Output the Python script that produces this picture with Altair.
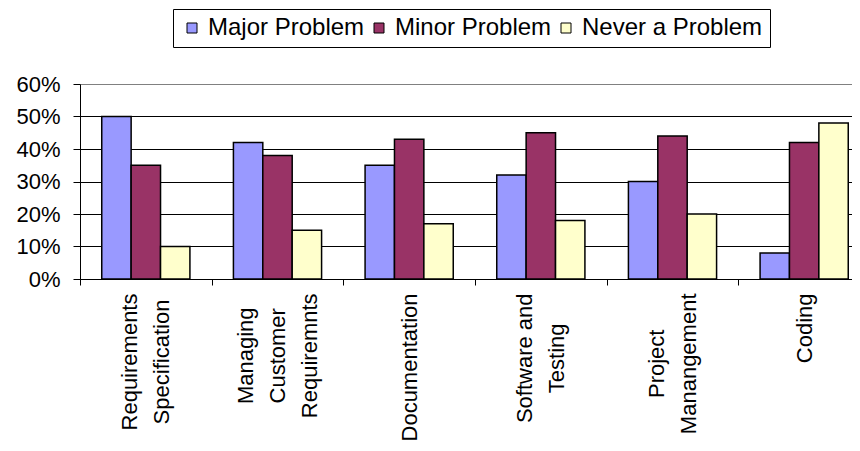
import json
import altair as alt
import pandas as pd

categories = [
    "Requirements\nSpecification",
    "Managing\nCustomer\nRequiremnts",
    "Documentation",
    "Software and\nTesting",
    "Project\nManangement",
    "Coding",
]
series = ["Major Problem", "Minor Problem", "Never a Problem"]
colors = ["#9999FF", "#993366", "#FFFFCC"]

major = [0.50, 0.42, 0.35, 0.32, 0.30, 0.08]
minor = [0.35, 0.38, 0.43, 0.45, 0.44, 0.42]
never = [0.10, 0.15, 0.17, 0.18, 0.20, 0.48]

y_ticks = [0, 0.1, 0.2, 0.3, 0.4, 0.5, 0.6]

rows = []
for name, vals in zip(series, [major, minor, never]):
    for c, v in zip(categories, vals):
        rows.append({"category": c, "series": name, "value": v})
df = pd.DataFrame(rows)

FONT = "Liberation Sans"
XFS = 22          # x label font size
LH = 32           # x label line height
BASE_PAD = 8      # gap between tick end and top of the labels

# Liberation Sans (Arial metrics) advance widths per 1000 em, to centre the
# lines of each wrapped label on its longest line, top-anchored like Excel.
_W = {" ": 278, "a": 556, "b": 556, "c": 500, "d": 556, "e": 556, "f": 278,
      "g": 556, "h": 556, "i": 222, "j": 222, "k": 500, "l": 222, "m": 833,
      "n": 556, "o": 556, "p": 556, "q": 556, "r": 333, "s": 500, "t": 278,
      "u": 556, "v": 500, "w": 722, "x": 500, "y": 500, "z": 500, "C": 722,
      "D": 722, "M": 833, "P": 667, "R": 722, "S": 667, "T": 611}


def longest_px(label):
    return max(sum(_W.get(ch, 556) for ch in ln) for ln in label.split("\n")) / 1000 * XFS


pad_conditions = [
    {"test": "datum.label == " + json.dumps(c), "value": round(BASE_PAD + longest_px(c) / 2, 1)}
    for c in categories
]
offset_conditions = [
    {"test": "length(split(datum.label, '\\n')) == 3", "value": -LH},
    {"test": "length(split(datum.label, '\\n')) == 2", "value": -LH / 2},
]

chart = alt.Chart(df).mark_bar(stroke="black", strokeWidth=1.5).encode(
    x=alt.X(
        "category:N",
        sort=categories,
        scale=alt.Scale(paddingInner=0, paddingOuter=0, range=[0, 790]),
        axis=alt.Axis(
            title=None,
            labelAngle=270,
            labelAlign="center",
            labelBaseline="middle",
            labelExpr="split(datum.label, '\\n')",
            labelFont=FONT,
            labelFontSize=XFS,
            labelLineHeight=LH,
            labelColor="black",
            labelPadding={"condition": pad_conditions, "value": BASE_PAD},
            labelLimit=0,
            labelOffset={"condition": offset_conditions, "value": 0},
            tickSize=6,
            tickBand="extent",
            tickColor="black",
            domainColor="black",
            grid=False,
        ),
    ),
    xOffset=alt.XOffset(
        "series:N", sort=series,
        scale=alt.Scale(paddingInner=0, paddingOuter=0.74),
    ),
    y=alt.Y(
        "value:Q",
        scale=alt.Scale(domain=[0, 0.6], nice=False),
        axis=alt.Axis(
            title=None,
            values=y_ticks,
            format=".0%",
            labelFont=FONT,
            labelFontSize=22,
            labelColor="black",
            labelPadding=13,
            tickSize=7,
            tickColor="black",
            domainColor="black",
            grid=True,
            gridColor={"condition": {"test": "datum.value >= 0.59", "value": "#808080"}, "value": "black"},
            gridWidth=1,
            gridOpacity=1,
        ),
    ),
    color=alt.Color(
        "series:N",
        scale=alt.Scale(domain=series, range=colors),
        legend=alt.Legend(
            title=None,
            orient="none",
            direction="horizontal",
            legendX=93,
            legendY=-75,
            strokeColor="black",
            fillColor="white",
            padding=7,
            labelFont=FONT,
            labelFontSize=24,
            labelColor="black",
            labelLimit=400,
            labelOffset=4,
            columnPadding=2,
            symbolType="square",
            symbolSize=100,
            symbolStrokeColor="black",
            symbolStrokeWidth=1,
            symbolOpacity=1,
        ),
    ),
).properties(
    width=772,
    height=195,
    padding={"left": 72, "top": 76, "right": 0, "bottom": 163},
    autosize=alt.AutoSizeParams(type="none"),
).configure_view(
    fill="#C0C0C0",
    stroke=None,
).configure(background="white")

chart.save("out.html", embed_options={"renderer": "svg", "actions": False})
